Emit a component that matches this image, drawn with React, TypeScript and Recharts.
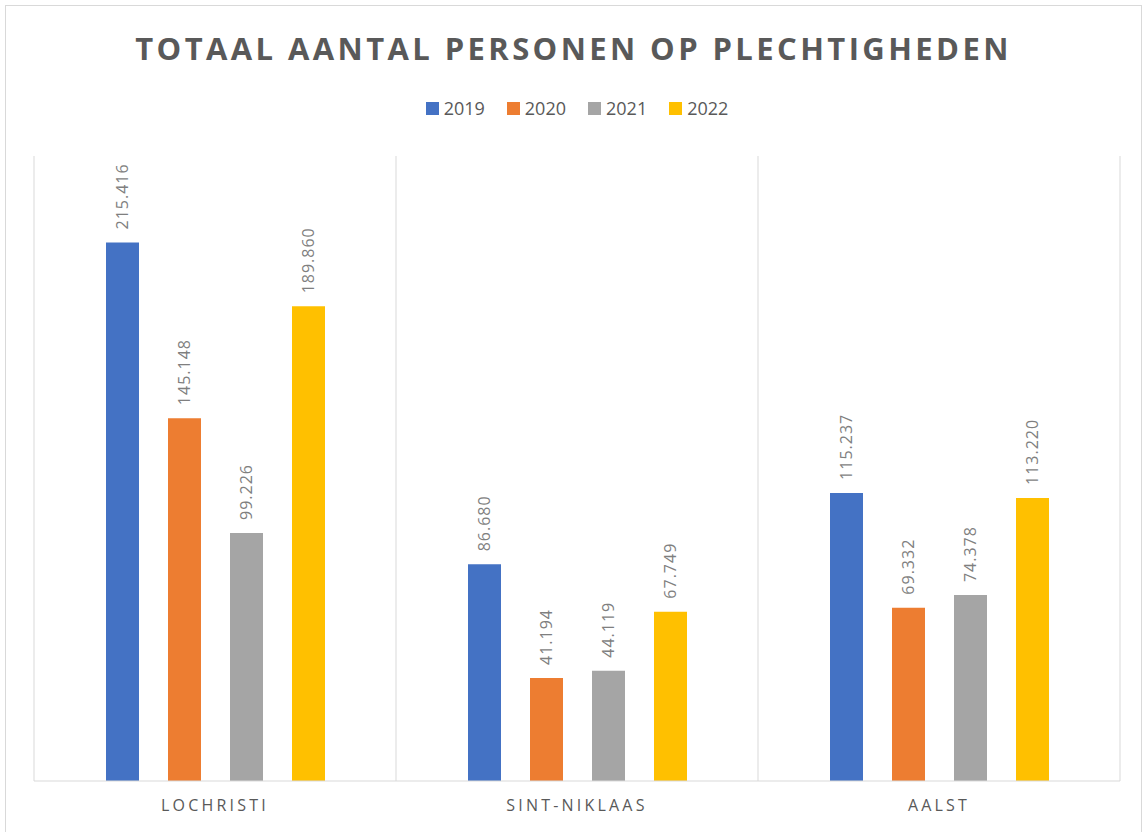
import { BarChart, Bar, XAxis, YAxis, CartesianGrid, Legend, LabelList } from 'recharts';

const gemeenten = ['LOCHRISTI', 'SINT-NIKLAAS', 'AALST'];
const jaren = ['2019', '2020', '2021', '2022'];
const kleuren = ['#4472C4', '#ED7D31', '#A5A5A5', '#FFC000'];

const waarden2019 = [215416, 86680, 115237];
const waarden2020 = [145148, 41194, 69332];
const waarden2021 = [99226, 44119, 74378];
const waarden2022 = [189860, 67749, 113220];

const data = gemeenten.map((name, i) => ({
  name,
  '2019': waarden2019[i],
  '2020': waarden2020[i],
  '2021': waarden2021[i],
  '2022': waarden2022[i],
}));

const FONT = '"Open Sans", "Liberation Sans", sans-serif';

function fmt(v: number) {
  return String(v).replace(/\B(?=(\d{3})+(?!\d))/g, '.');
}

function renderLabel(props: any) {
  const { x, y, width, value } = props;
  const cx = Number(x) + Number(width) / 2;
  const ty = Number(y) - 13;
  return (
    <text
      x={cx}
      y={ty}
      transform={`rotate(-90 ${cx} ${ty})`}
      textAnchor="start"
      dominantBaseline="central"
      fill="#7f7f7f"
      fontSize={16}
      letterSpacing={1}
      fontFamily={FONT}
    >
      {fmt(value)}
    </text>
  );
}

function LegendContent() {
  return (
    <div style={{ display: 'flex', justifyContent: 'center', height: 24, alignItems: 'center', fontFamily: FONT }}>
      {jaren.map((j, i) => (
        <div key={j} style={{ display: 'flex', alignItems: 'center', marginRight: i < jaren.length - 1 ? 22 : 0 }}>
          <span style={{ display: 'inline-block', width: 13, height: 13, background: kleuren[i], marginRight: 5 }} />
          <span style={{ fontSize: 18, color: '#595959' }}>{j}</span>
        </div>
      ))}
    </div>
  );
}

export default function App() {
  return (
    <div style={{ position: 'absolute', left: 0, top: 0, width: 1147, height: 832, background: '#fff' }}>
      <div
        style={{
          position: 'absolute',
          left: 5,
          top: 5,
          width: 1137,
          height: 840,
          border: '1px solid #d9d9d9',
          boxSizing: 'border-box',
        }}
      />
      <div
        style={{
          position: 'absolute',
          top: 27,
          left: 0,
          width: 1147,
          textAlign: 'center',
          fontFamily: FONT,
          fontWeight: 700,
          fontSize: 31,
          letterSpacing: 3.4,
          color: '#595959',
        }}
      >
        TOTAAL AANTAL PERSONEN OP PLECHTIGHEDEN
      </div>
      <BarChart
        width={1147}
        height={832}
        data={data}
        margin={{ top: 132, right: 27, bottom: 11, left: 34 }}
        barSize={33}
        barGap={29}
      >
        <CartesianGrid
          horizontal={false}
          stroke="#d9d9d9"
          verticalCoordinatesGenerator={({ offset }: any) =>
            [0, 1, 2, 3].map((k) => offset.left + (offset.width * k) / 3)
          }
        />
        <XAxis
          dataKey="name"
          tickLine={false}
          axisLine={{ stroke: '#d9d9d9' }}
          tickMargin={13}
          height={40}
          tick={{ fill: '#595959', fontSize: 16, letterSpacing: 3.2, fontFamily: FONT }}
        />
        <YAxis hide domain={[0, 250000]} />
        <Legend verticalAlign="top" wrapperStyle={{ top: 96 }} content={<LegendContent />} />
        {jaren.map((j, i) => (
          <Bar key={j} dataKey={j} fill={kleuren[i]} isAnimationActive={false}>
            <LabelList dataKey={j} content={renderLabel} />
          </Bar>
        ))}
      </BarChart>
    </div>
  );
}
